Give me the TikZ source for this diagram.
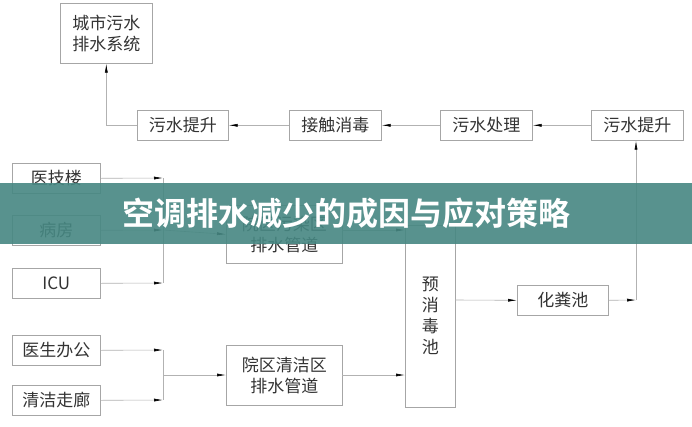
\documentclass[tikz,border=0pt]{standalone}
\usepackage{fontspec}
\newfontfamily\cjk{Noto Sans CJK SC}
\newfontfamily\cjkb{Noto Sans CJK SC Bold}
\usetikzlibrary{arrows.meta}
\begin{document}
\begin{tikzpicture}[x=1pt,y=-1pt,
  bx/.style={draw=gray!70,line width=0.6pt,font=\cjk\fontsize{17}{21}\selectfont,text=black!80,inner sep=0pt,anchor=north west},
  ar/.style={draw=gray!60,line width=0.6pt,-{Latex[length=9pt,width=3pt,black]}},
  ln/.style={draw=gray!60,line width=0.6pt}]
\useasboundingbox (0,0) rectangle (692,426);
\fill[white] (0,0) rectangle (692,426);
\node[bx,minimum width=92,minimum height=60,align=center] (city) at (60,3) {城市污水\\排水系统};
\node[bx,minimum width=91,minimum height=30] (up1) at (137,110) {污水提升};
\node[bx,minimum width=92,minimum height=30] (dis) at (289,110) {接触消毒};
\node[bx,minimum width=92,minimum height=30] (tre) at (440,110) {污水处理};
\node[bx,minimum width=92,minimum height=30] (up2) at (591,110) {污水提升};
\node[bx,minimum width=88,minimum height=30] (yj) at (12,163) {医技楼};
\node[bx,minimum width=88,minimum height=30] (bf) at (12,215) {病房};
\node[bx,minimum width=88,minimum height=30] (icu) at (12,268) {ICU};
\node[bx,minimum width=88,minimum height=30] (ys) at (12,335) {医生办公};
\node[bx,minimum width=88,minimum height=30] (qj) at (12,385) {清洁走廊};
\node[bx,minimum width=116,minimum height=58,align=center] (wr) at (226,205) {院区污染区\\排水管道};
\node[bx,minimum width=116,minimum height=60,align=center] (qq) at (226,345) {院区清洁区\\排水管道};
\node[bx,minimum width=50,minimum height=182,align=center] (pre) at (405,225) {预\\消\\毒\\池};
\node[bx,minimum width=91,minimum height=30] (hf) at (517,285) {化粪池};
% top chain
\draw[ar] (up2.west) -- (tre.east);
\draw[ar] (tre.west) -- (dis.east);
\draw[ar] (dis.west) -- (up1.east);
\draw[ar] (up1.west) -| (city.south);
% left groups
\coordinate (j1) at (163,178);
\coordinate (j2) at (163,283);
\coordinate (jm) at (163,230);
\draw[ar] (yj.east) -- (j1);
\draw[ar] (bf.east) -- (jm);
\draw[ar] (icu.east) -- (j2);
\draw[ln] (j1) -- (j2);
\draw[ar] (jm) -- (wr.west);
\coordinate (k1) at (163,350);
\coordinate (k2) at (163,400);
\coordinate (km) at (163,375);
\draw[ar] (ys.east) -- (k1);
\draw[ar] (qj.east) -- (k2);
\draw[ln] (k1) -- (k2);
\draw[ar] (km) -- (wr.west |- km) ;
\coordinate (w1) at (342,230);
\coordinate (q1) at (342,375);
\draw[ar] (w1) -- (405,230);
\draw[ar] (q1) -- (405,375);
\draw[ar] (455,300) -- (hf.west);
\coordinate (c1) at (636,300);
\draw[ar] (hf.east) -- (c1);
\draw[ar] (c1) -- (up2.south -| c1);
% banner
\fill[fill={rgb,255:red,70;green,135;blue,130},opacity=0.9] (0,183) rectangle (692,244);
\node[font=\cjkb\fontsize{32}{36}\selectfont,text=white] (ttl) at (346,213) {空调排水减少的成因与应对策略};
\end{tikzpicture}
\end{document}
